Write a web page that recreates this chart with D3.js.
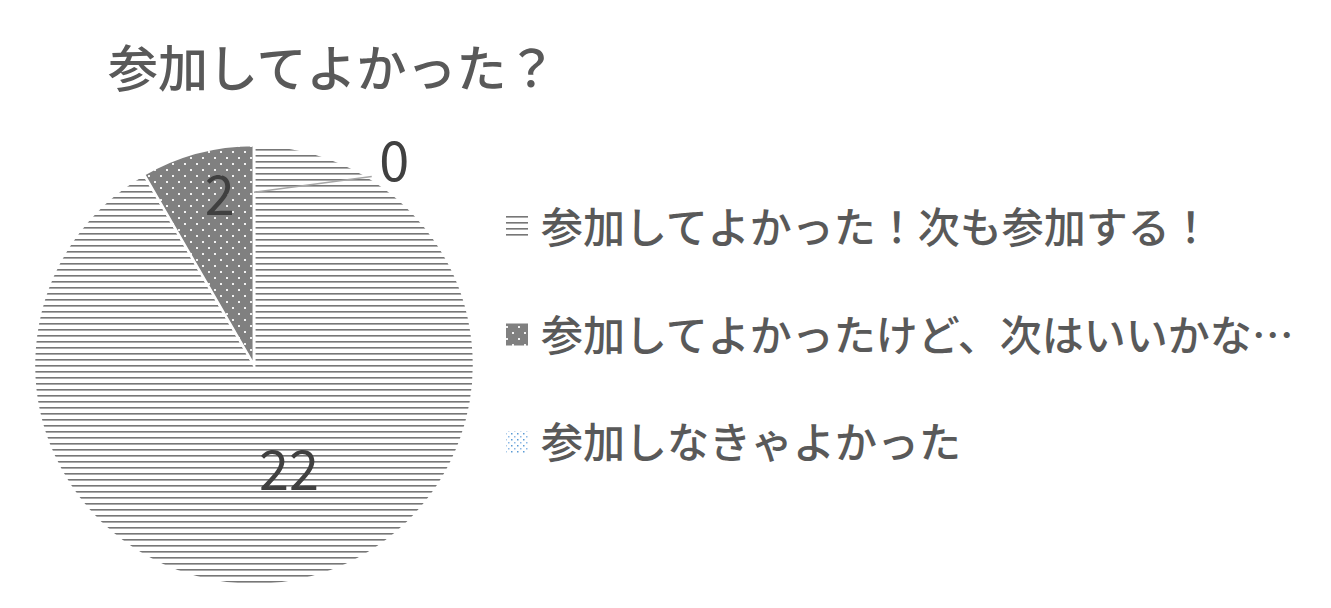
<!DOCTYPE html>
<html><head><meta charset="utf-8">
<script src="https://cdn.jsdelivr.net/npm/d3@7"></script>
<style>body{margin:0;background:#fff}svg{display:block}</style>
</head><body>
<script>
const title = "参加してよかった？";
const categories = ["参加してよかった！次も参加する！", "参加してよかったけど、次はいいかな…", "参加しなきゃよかった"];
const values = [22, 2, 0];

const W = 1331, H = 608;
const font = "'Noto Sans CJK JP', 'Noto Sans', sans-serif";
const svg = d3.select("body").append("svg").attr("width", W).attr("height", H);
const defs = svg.append("defs");

// patterns
const p0 = defs.append("pattern").attr("id", "pat0").attr("patternUnits", "userSpaceOnUse").attr("width", 8).attr("height", 6);
p0.append("rect").attr("width", 8).attr("height", 6).attr("fill", "#fff");
p0.append("rect").attr("y", 0).attr("width", 8).attr("height", 1).attr("fill", "#777");
p0.append("rect").attr("y", 1).attr("width", 8).attr("height", 1).attr("fill", "#aaa");

const p1 = defs.append("pattern").attr("id", "pat1").attr("patternUnits", "userSpaceOnUse").attr("width", 12).attr("height", 12);
p1.append("rect").attr("width", 12).attr("height", 12).attr("fill", "#808080");
p1.append("rect").attr("x", 2).attr("y", 2).attr("width", 2).attr("height", 2).attr("fill", "#f2f2f2");
p1.append("rect").attr("x", 8).attr("y", 8).attr("width", 2).attr("height", 2).attr("fill", "#f2f2f2");

const p2 = defs.append("pattern").attr("id", "pat2").attr("patternUnits", "userSpaceOnUse").attr("width", 6).attr("height", 6);
p2.append("rect").attr("width", 6).attr("height", 6).attr("fill", "#fff");
p2.append("rect").attr("x", 1).attr("y", 1).attr("width", 1.5).attr("height", 1.5).attr("fill", "#5b9bd5");
p2.append("rect").attr("x", 4).attr("y", 4).attr("width", 1.5).attr("height", 1.5).attr("fill", "#8bb8e6");

const fills = ["url(#pat0)", "url(#pat1)", "url(#pat2)"];

// title
svg.append("text").attr("x", 108).attr("y", 87)
  .attr("font-family", font).attr("font-size", 50).attr("font-weight", 500).attr("fill", "#595959").text(title);

// pie
const cx = 254, cy = 365, R = 220;
const g = svg.append("g").attr("transform", `translate(${cx},${cy})`);
const pie = d3.pie().sort(null).value(d => d)(values);
const arc = d3.arc().innerRadius(0).outerRadius(R);
g.selectAll("path.slice").data(pie).enter().append("path")
  .attr("d", arc).attr("fill", (d, i) => fills[i])
  .attr("stroke", "#fff").attr("stroke-width", 2.5);

const polar = (a, r) => [r * Math.sin(a), -r * Math.cos(a)];
const labelR = [0.49, 0.78];
const deg = Math.PI / 180;
pie.forEach((d, i) => {
  const mid = (d.startAngle + d.endAngle) / 2;
  let pos;
  if (d.value > 0) {
    const adj = i === 0 ? -4 * deg : 3.5 * deg;
    pos = polar(mid + adj, labelR[i] * R);
    if (i === 1) pos[1] -= 5;
  } else {
    const s = polar(mid, 0.785 * R);
    const e = polar(32 * deg, 1.01 * R);
    g.append("line").attr("x1", s[0]).attr("y1", s[1]).attr("x2", e[0]).attr("y2", e[1])
      .attr("stroke", "#a6a6a6").attr("stroke-width", 1.5);
    pos = polar(34 * deg, 1.14 * R);
  }
  g.append("text").attr("x", pos[0]).attr("y", pos[1]).attr("text-anchor", "middle")
    .attr("dominant-baseline", "central")
    .attr("font-family", font).attr("font-size", 54).attr("fill", "#404040").text(d.value);
});

// legend
const ly = d3.scalePoint().domain(categories).range([227, 442]);
const leg = svg.append("g");
categories.forEach((c, i) => {
  const y = ly(c);
  leg.append("rect").attr("x", 506).attr("y", y - 11).attr("width", 22).attr("height", 22).attr("fill", fills[i]);
  leg.append("text").attr("x", 541).attr("y", y + 16)
    .attr("font-family", font).attr("font-size", 42).attr("font-weight", 500).attr("fill", "#595959").text(c);
});
</script>
</body></html>
